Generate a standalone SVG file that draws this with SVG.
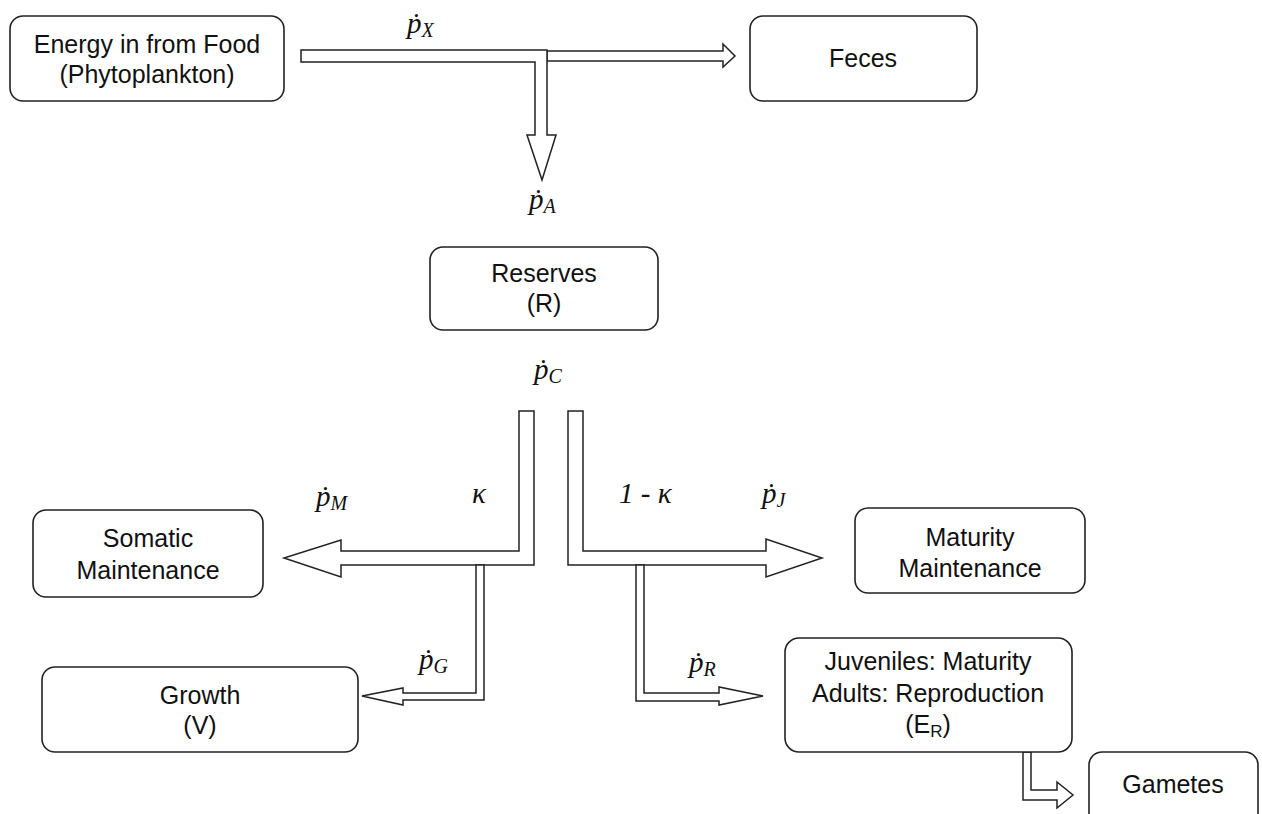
<svg xmlns="http://www.w3.org/2000/svg" width="1262" height="814" viewBox="0 0 1262 814">
<style>
.box{fill:#fff;stroke:#222;stroke-width:1.6}
.t{font-family:"Liberation Sans",Arial,sans-serif;font-size:25px;fill:#111;text-anchor:middle}
.arr{fill:#fff;stroke:#222;stroke-width:1.5;stroke-linejoin:miter}
.m{font-family:"Liberation Serif","DejaVu Serif",serif;font-style:italic;font-size:29px;fill:#111}
.sub{font-size:20px}
</style>
<rect width="1262" height="814" fill="#fff"/>
<g id="connectors">
<polygon class="arr" points="547,51 723,51 723,44 735,56 723,67 723,61 547,61"/>
<polygon class="arr" points="301,50 547,50 547,135 556,135 542,180 527,135 535,135 535,62 301,62"/>
<polygon class="arr" points="519,411 534,411 534,565 341,565 341,577 284,558 341,540 341,551 519,551"/>
<polygon class="arr" points="568,411 583,411 583,551 766,551 766,539 822,558 766,577 766,565 568,565"/>
<polygon class="arr" points="476,565 484,565 484,700 403,700 403,705 362,696 403,688 403,693 476,693"/>
<polygon class="arr" points="636,565 644,565 644,693 719,693 719,687 763,696 719,705 719,701 636,701"/>
<polygon class="arr" points="1023,752 1031,752 1031,790 1057,790 1057,782 1073,795 1057,808 1057,800 1023,800"/>
</g>
<g id="labels">
<text class="m" x="407" y="33">ṗ<tspan class="sub" dy="4">X</tspan></text>
<text class="m" x="529" y="209">ṗ<tspan class="sub" dy="4">A</tspan></text>
<text class="m" x="534" y="379">ṗ<tspan class="sub" dy="4">C</tspan></text>
<text class="m" x="316" y="506">ṗ<tspan class="sub" dy="4">M</tspan></text>
<text class="m" x="472" y="503">κ</text>
<text class="m" x="619" y="503">1 - κ</text>
<text class="m" x="762" y="503">ṗ<tspan class="sub" dy="4">J</tspan></text>
<text class="m" x="419" y="669">ṗ<tspan class="sub" dy="4">G</tspan></text>
<text class="m" x="689" y="672">ṗ<tspan class="sub" dy="4">R</tspan></text>
</g>
<g id="energy"><rect class="box" x="10" y="16" width="274" height="85" rx="13"/><text class="t" x="147" y="53">Energy in from Food</text><text class="t" x="147" y="83">(Phytoplankton)</text></g>
<g id="feces"><rect class="box" x="750" y="16" width="227" height="85" rx="13"/><text class="t" x="863" y="67">Feces</text></g>
<g id="reserves"><rect class="box" x="430" y="247" width="228" height="83" rx="13"/><text class="t" x="544" y="282">Reserves</text><text class="t" x="544" y="312">(R)</text></g>
<g id="somatic"><rect class="box" x="33" y="510" width="230" height="87" rx="13"/><text class="t" x="148" y="547">Somatic</text><text class="t" x="148" y="579">Maintenance</text></g>
<g id="maturity"><rect class="box" x="855" y="508" width="230" height="85" rx="13"/><text class="t" x="970" y="546">Maturity</text><text class="t" x="970" y="577">Maintenance</text></g>
<g id="growth"><rect class="box" x="42" y="667" width="316" height="85" rx="13"/><text class="t" x="200" y="704">Growth</text><text class="t" x="200" y="734">(V)</text></g>
<g id="juveniles"><rect class="box" x="785" y="638" width="287" height="114" rx="14"/><text class="t" x="928" y="670">Juveniles: Maturity</text><text class="t" x="928" y="702">Adults: Reproduction</text><text class="t" x="928" y="733">(E<tspan font-size="17" dy="4">R</tspan><tspan dy="-4">)</tspan></text></g>
<g id="gametes"><rect class="box" x="1089" y="752" width="169" height="80" rx="13"/><text class="t" x="1173" y="793">Gametes</text></g>
</svg>
